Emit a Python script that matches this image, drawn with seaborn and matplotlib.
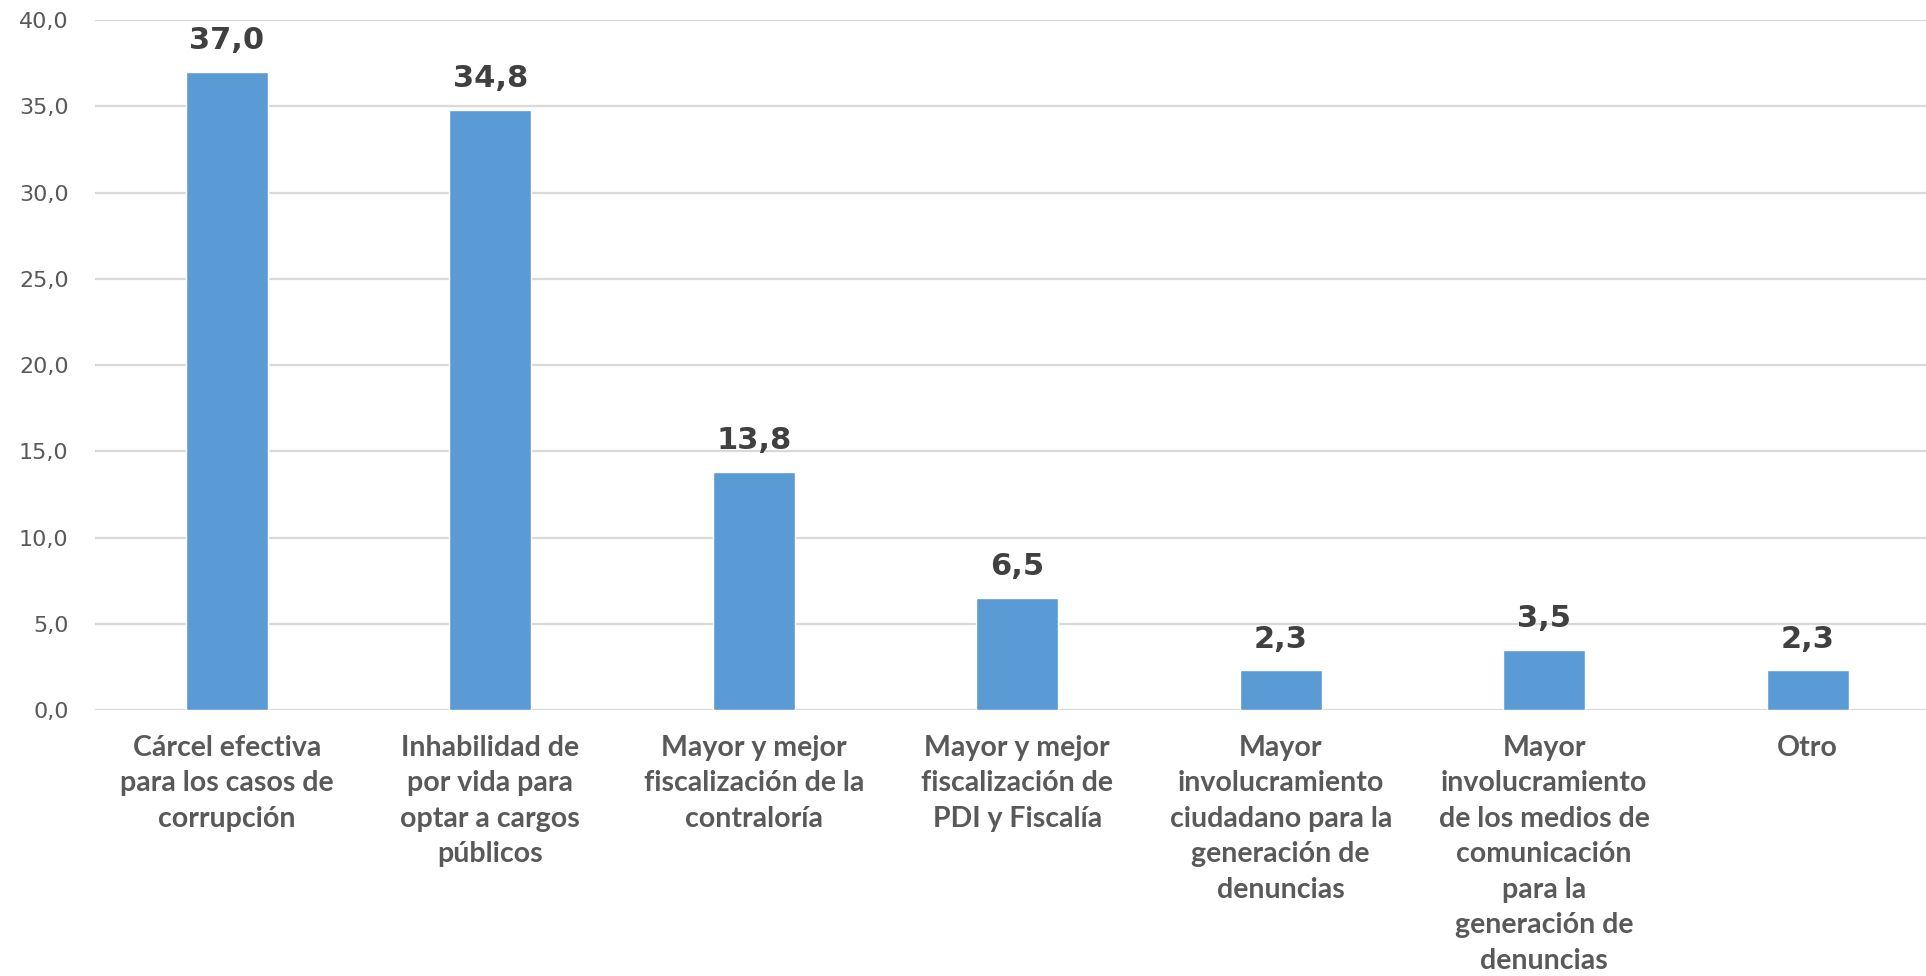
import matplotlib
matplotlib.use("Agg")
import matplotlib.pyplot as plt
import seaborn as sns
import pandas as pd
from matplotlib.ticker import FuncFormatter

sns.set_style("white")

categories = [
    "Cárcel efectiva\npara los casos de\ncorrupción",
    "Inhabilidad de\npor vida para\noptar a cargos\npúblicos",
    "Mayor y mejor\nfiscalización de la\ncontraloría",
    "Mayor y mejor\nfiscalización de\nPDI y Fiscalía",
    "Mayor\ninvolucramiento\nciudadano para la\ngeneración de\ndenuncias",
    "Mayor\ninvolucramiento\nde los medios de\ncomunicación\npara la\ngeneración de\ndenuncias",
    "Otro",
]
values = [37.0, 34.8, 13.8, 6.5, 2.3, 3.5, 2.3]
y_ticks = [0, 5, 10, 15, 20, 25, 30, 35, 40]

df = pd.DataFrame({"categoria": categories, "valor": values})

fig = plt.figure(figsize=(19.26, 9.76), dpi=100)
ax = fig.add_axes([0.0493, 0.2725, 0.9577, 0.707])

sns.barplot(data=df, x="categoria", y="valor", color="#5B9BD5",
            saturation=1, width=0.31, ax=ax, zorder=3)

ax.set_ylim(0, 40)
ax.set_yticks(y_ticks)
ax.yaxis.set_major_formatter(FuncFormatter(lambda v, p: f"{v:.1f}".replace(".", ",")))
ax.grid(axis="y", color="#d9d9d9", linewidth=1.6, zorder=0)
ax.set_axisbelow(True)
for s in ax.spines.values():
    s.set_visible(False)

ax.set_xlabel("")
ax.set_ylabel("")
ax.tick_params(axis="y", length=0, pad=19, labelsize=16, labelcolor="#595959")
ax.tick_params(axis="x", length=0, pad=18)
for lbl in ax.get_xticklabels():
    lbl.set_fontfamily(["Lato", "DejaVu Sans"])
    lbl.set_fontweight("bold")
    lbl.set_fontsize(20.5)
    lbl.set_color("#595959")
    lbl.set_linespacing(1.45)
    lbl.set_ha("center")
    lbl.set_va("top")

ax.bar_label(ax.containers[0],
             labels=[f"{v:.1f}".replace(".", ",") for v in values],
             padding=12, fontsize=22, fontweight="bold", color="#404040")

fig.savefig("out.png", dpi=100)
